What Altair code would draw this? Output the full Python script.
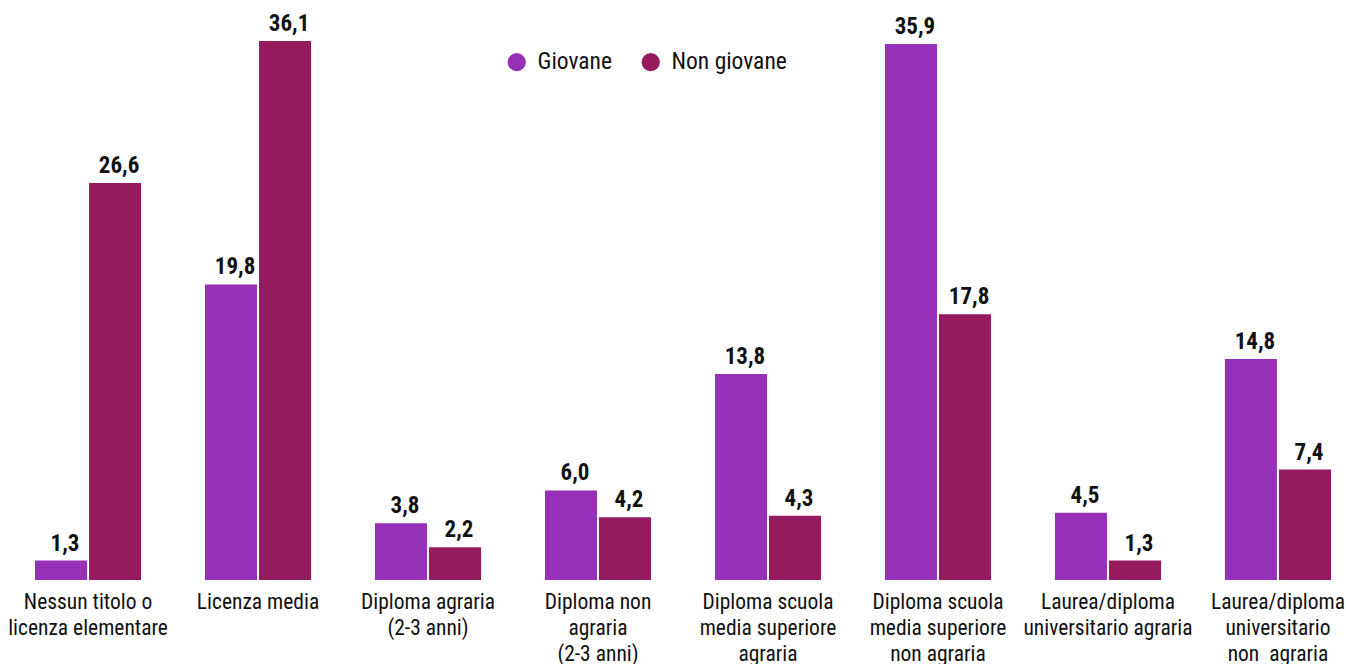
import altair as alt
import pandas as pd

categories = [
    "Nessun titolo o|licenza elementare",
    "Licenza media",
    "Diploma agraria|(2-3 anni)",
    "Diploma non|agraria|(2-3 anni)",
    "Diploma scuola|media superiore|agraria",
    "Diploma scuola|media superiore|non agraria",
    "Laurea/diploma|universitario agraria",
    "Laurea/diploma|universitario|non\u00a0 agraria",
]
series = ["Giovane", "Non giovane"]
giovane = [1.3, 19.8, 3.8, 6.0, 13.8, 35.9, 4.5, 14.8]
non_giovane = [26.6, 36.1, 2.2, 4.2, 4.3, 17.8, 1.3, 7.4]
colors = ["#9631b7", "#961a5e"]

rows = []
for c, g, n in zip(categories, giovane, non_giovane):
    rows.append({"cat": c, "serie": series[0], "val": g})
    rows.append({"cat": c, "serie": series[1], "val": n})
df = pd.DataFrame(rows)

FONT = "Roboto Condensed, Liberation Sans Narrow, DejaVu Sans Condensed, Roboto"

x = alt.X("cat:N", sort=categories,
          scale=alt.Scale(paddingInner=0.376, paddingOuter=0),
          axis=alt.Axis(title=None, labelAngle=0, domain=False, ticks=False,
                        grid=False,
                        labelExpr="split(datum.label, '|')",
                        labelFont=FONT, labelFontSize=21.5, labelColor="#111111",
                        labelLineHeight=26, labelPadding=11, labelBaseline="top",
                        labelLimit=300))
y = alt.Y("val:Q", scale=alt.Scale(domain=[0, 38.85], nice=False, zero=True),
          axis=None)
xo = alt.XOffset("serie:N", sort=series,
                 scale=alt.Scale(paddingInner=0.037, paddingOuter=0))

bars = alt.Chart(df).mark_bar().encode(
    x=x, y=y, xOffset=xo,
    color=alt.Color("serie:N", sort=series,
                    scale=alt.Scale(domain=series, range=colors),
                    legend=alt.Legend(title=None, orient="none", direction="horizontal",
                                      legendX=470, legendY=50,
                                      symbolType="circle", symbolSize=330,
                                      symbolStrokeWidth=0, symbolOpacity=1,
                                      labelFont=FONT, labelFontSize=23.5,
                                      labelColor="#111111", labelOffset=9,
                                      columnPadding=27, padding=0)),
)

labels = alt.Chart(df).transform_calculate(
    lab="replace(format(datum.val, '.1f'), '.', ',')"
).mark_text(font=FONT, fontSize=23, fontWeight="bold", baseline="bottom",
            dy=-5, dx=4, color="#111111").encode(
    x=x, y=y, xOffset=xo, text="lab:N"
)

chart = alt.layer(bars, labels).properties(
    width=1296, height=580,
    background="white",
    autosize=alt.AutoSizeParams(type="none"),
    padding={"left": 35, "top": 0, "right": 15, "bottom": 84},
).configure_view(strokeWidth=0)

chart.save("out.html", embed_options={"renderer": "svg", "actions": False})
